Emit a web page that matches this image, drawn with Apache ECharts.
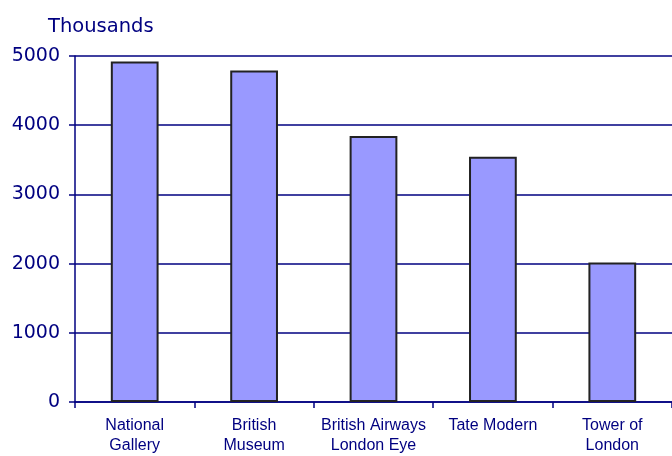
<!DOCTYPE html>
<html>
<head>
<meta charset="utf-8">
<script src="https://cdn.jsdelivr.net/npm/echarts@6/dist/echarts.min.js"></script>
<style>html,body{margin:0;padding:0;background:#fff}#c{width:672px;height:456px}</style>
</head>
<body>
<div id="c"></div>
<script>
var categories = ['National\nGallery', 'British\nMuseum', 'British Airways\nLondon Eye', 'Tate Modern', 'Tower of\nLondon'];
var visitors = [4920, 4790, 3845, 3545, 2015];
var yTicks = [0, 1000, 2000, 3000, 4000, 5000];
var navy = '#000080';
var chart = echarts.init(document.getElementById('c'), null, {renderer: 'canvas'});
chart.setOption({
  animation: false,
  title: {
    text: 'Thousands', left: 43, top: 12,
    textStyle: {fontFamily: 'DejaVu Sans', fontSize: 19.5, fontWeight: 'normal', color: navy}
  },
  grid: {left: 75, right: 0, top: 56, bottom: 52, containLabel: false},
  xAxis: {
    type: 'category', data: categories,
    axisLine: {lineStyle: {color: navy, width: 1.5}},
    axisTick: {show: true, length: 6, lineStyle: {color: navy, width: 1.5}},
    axisLabel: {interval: 0, margin: 14, fontFamily: 'Liberation Sans', fontSize: 16, lineHeight: 20, color: navy}
  },
  yAxis: {
    type: 'value', min: yTicks[0], max: yTicks[yTicks.length - 1], interval: 1000,
    axisLine: {show: true, lineStyle: {color: navy, width: 1.5}},
    axisTick: {show: true, length: 6, lineStyle: {color: navy, width: 1.5}},
    axisLabel: {margin: 15, fontFamily: 'DejaVu Sans', fontSize: 19, color: navy,
      formatter: function (v) { return String(v); }},
    splitLine: {show: true, lineStyle: {color: navy, width: 1.5}}
  },
  series: [{
    type: 'bar', data: visitors, barWidth: '40%',
    itemStyle: {color: '#9999FF', borderColor: '#222222', borderWidth: 2}
  }]
});
</script>
</body>
</html>
